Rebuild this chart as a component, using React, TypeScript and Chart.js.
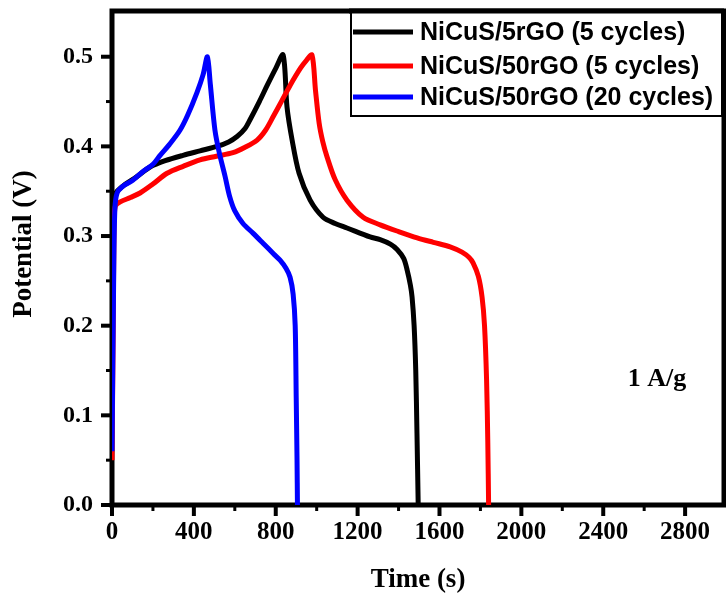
import React, { useEffect, useRef } from "react";
import { Chart, registerables } from "chart.js";

Chart.register(...registerables);

// ---- data ----
const seriesLabels = ["NiCuS/5rGO (5 cycles)", "NiCuS/50rGO (5 cycles)", "NiCuS/50rGO (20 cycles)"];
const seriesColors = ["#000000", "#ff0000", "#0000ff"];

// NiCuS/5rGO (5 cycles) - black
const time5rGO5 = [0, 8, 14, 25, 60, 120, 186, 260, 347, 430, 513, 570, 611, 650, 675, 720, 758, 800, 836, 855, 880, 914, 968, 1031, 1090, 1148, 1261, 1310, 1360, 1393, 1425, 1442, 1458, 1466, 1476, 1484, 1490, 1496];
const potential5rGO5 = [0.24, 0.32, 0.345, 0.35, 0.357, 0.366, 0.377, 0.384, 0.39, 0.395, 0.4, 0.405, 0.411, 0.42, 0.43, 0.45, 0.468, 0.487, 0.502, 0.444, 0.407, 0.37, 0.34, 0.321, 0.314, 0.309, 0.299, 0.296, 0.291, 0.285, 0.275, 0.262, 0.245, 0.232, 0.2, 0.15, 0.08, 0.0];

// NiCuS/50rGO (5 cycles) - red
const time50rGO5 = [0, 6, 10, 16, 40, 90, 137, 200, 269, 350, 430, 510, 591, 650, 709, 750, 787, 830, 870, 920, 950, 977, 994, 1012, 1030, 1051, 1090, 1148, 1227, 1310, 1400, 1491, 1570, 1652, 1710, 1745, 1764, 1790, 1808, 1820, 1830, 1836, 1840];
const potential50rGO5 = [0.05, 0.2, 0.31, 0.333, 0.338, 0.343, 0.348, 0.358, 0.37, 0.378, 0.385, 0.389, 0.393, 0.399, 0.407, 0.418, 0.433, 0.451, 0.468, 0.487, 0.496, 0.502, 0.463, 0.426, 0.405, 0.388, 0.363, 0.34, 0.321, 0.3125, 0.305, 0.298, 0.293, 0.288, 0.282, 0.276, 0.27, 0.255, 0.232, 0.2, 0.14, 0.07, 0.0];

// NiCuS/50rGO (20 cycles) - blue
const time50rGO20 = [0, 8, 14, 25, 50, 100, 152, 200, 235, 280, 332, 370, 415, 445, 466, 480, 503, 525, 552, 575, 600, 640, 690, 738, 790, 821, 850, 870, 885, 895, 900, 904, 906];
const potential50rGO20 = [0.06, 0.25, 0.33, 0.348, 0.355, 0.362, 0.372, 0.38, 0.39, 0.402, 0.418, 0.435, 0.46, 0.48, 0.5, 0.47, 0.418, 0.392, 0.367, 0.344, 0.328, 0.314, 0.303, 0.292, 0.28, 0.273, 0.264, 0.254, 0.235, 0.2, 0.12, 0.05, 0.0];

const xTickValues = [0, 400, 800, 1200, 1600, 2000, 2400, 2800];
const xMinorTickValues = [200, 600, 1000, 1400, 1800, 2200, 2600];
const yTickValues = [0, 0.1, 0.2, 0.3, 0.4, 0.5];
const yMinorTickValues = [0.05, 0.15, 0.25, 0.35, 0.45];

const xMin = 0;
const xMax = 2990;
const yMin = 0;
const yMax = 0.551;

const xTitle = "Time (s)";
const yTitle = "Potential (V)";
const annotationText = "1 A/g";

const SERIF = "'Liberation Serif', 'Times New Roman', serif";
const SANS = "'Liberation Sans', Arial, sans-serif";

function toPoints(xs: number[], ys: number[]) {
  return xs.map((x, i) => ({ x, y: ys[i] }));
}

const framePlugin = {
  id: "frameAndExtras",
  beforeDraw(chart: any) {
    const ctx = chart.ctx;
    ctx.save();
    ctx.fillStyle = "#ffffff";
    ctx.fillRect(0, 0, chart.width, chart.height);
    ctx.restore();
  },
  beforeDatasetsDraw(chart: any) {
    const { ctx, chartArea } = chart;
    const xs = chart.scales.x;
    const ys = chart.scales.y;
    const { left, right, top, bottom } = chartArea;
    ctx.save();
    ctx.strokeStyle = "#000";
    ctx.lineCap = "butt";
    ctx.lineWidth = 4;
    xTickValues.forEach((v) => {
      const px = xs.getPixelForValue(v);
      ctx.beginPath();
      ctx.moveTo(px, bottom);
      ctx.lineTo(px, bottom + 11);
      ctx.stroke();
    });
    yTickValues.forEach((v) => {
      const py = ys.getPixelForValue(v);
      ctx.beginPath();
      ctx.moveTo(left, py);
      ctx.lineTo(left - 11, py);
      ctx.stroke();
    });
    ctx.lineWidth = 3;
    xMinorTickValues.forEach((v) => {
      const px = xs.getPixelForValue(v);
      ctx.beginPath();
      ctx.moveTo(px, bottom);
      ctx.lineTo(px, bottom + 6);
      ctx.stroke();
    });
    yMinorTickValues.forEach((v) => {
      const py = ys.getPixelForValue(v);
      ctx.beginPath();
      ctx.moveTo(left, py);
      ctx.lineTo(left - 6, py);
      ctx.stroke();
    });
    ctx.lineWidth = 5;
    ctx.strokeRect(left, top, right - left, bottom - top);
    ctx.restore();
  },
  afterDatasetsDraw(chart: any) {
    const { ctx } = chart;
    ctx.save();
    const bx = 351, by = 11, bw = 371, bh = 105;
    ctx.fillStyle = "#fff";
    ctx.fillRect(bx, by, bw, bh);
    ctx.strokeStyle = "#000";
    ctx.lineWidth = 2;
    ctx.strokeRect(bx, by, bw, bh);
    ctx.lineWidth = 5;
    ctx.beginPath();
    ctx.moveTo(bx - 2, chart.chartArea.top);
    ctx.lineTo(chart.chartArea.right, chart.chartArea.top);
    ctx.stroke();
    const rows = [32, 66, 97];
    seriesLabels.forEach((label, i) => {
      const y = rows[i];
      ctx.strokeStyle = seriesColors[i];
      ctx.lineWidth = 5;
      ctx.beginPath();
      ctx.moveTo(353, y);
      ctx.lineTo(413, y);
      ctx.stroke();
      ctx.fillStyle = "#000";
      ctx.font = `bold 25px ${SANS}`;
      ctx.textAlign = "left";
      ctx.textBaseline = "middle";
      ctx.fillText(label, 420, y + 1);
    });
    ctx.font = `bold 26px ${SERIF}`;
    ctx.textAlign = "center";
    ctx.textBaseline = "middle";
    ctx.fillStyle = "#000";
    ctx.fillText(annotationText, 657, 379);
    ctx.translate(24, 244);
    ctx.rotate(-Math.PI / 2);
    ctx.font = `bold 27px ${SERIF}`;
    ctx.fillText(yTitle, 0, 0);
    ctx.restore();
  },
};

export default function App() {
  const canvasRef = useRef<HTMLCanvasElement | null>(null);

  useEffect(() => {
    if (!canvasRef.current) return;
    const common = {
      borderWidth: 5,
      pointRadius: 0,
      tension: 0.3,
    };
    const chart = new Chart(canvasRef.current, {
      type: "line",
      data: {
        datasets: [
          {
            ...common,
            label: seriesLabels[0],
            data: toPoints(time5rGO5, potential5rGO5),
            borderColor: seriesColors[0],
            backgroundColor: seriesColors[0],
            order: 3,
          },
          {
            ...common,
            label: seriesLabels[1],
            data: toPoints(time50rGO5, potential50rGO5),
            borderColor: seriesColors[1],
            backgroundColor: seriesColors[1],
            order: 2,
          },
          {
            ...common,
            label: seriesLabels[2],
            data: toPoints(time50rGO20, potential50rGO20),
            borderColor: seriesColors[2],
            backgroundColor: seriesColors[2],
            order: 1,
          },
        ],
      },
      options: {
        responsive: false,
        animation: false,
        devicePixelRatio: 1,
        layout: { padding: { top: 11, right: 2, left: 0, bottom: 0 } },
        plugins: {
          legend: { display: false },
          tooltip: { enabled: false },
        },
        elements: { line: { borderJoinStyle: "round", borderCapStyle: "butt" } },
        scales: {
          x: {
            type: "linear",
            min: xMin,
            max: xMax,
            afterBuildTicks: (s: any) => {
              s.ticks = xTickValues.map((v) => ({ value: v }));
            },
            afterFit: (s: any) => {
              s.height = 93;
              s.paddingLeft = 0;
              s.paddingRight = 0;
            },
            grid: { display: false, drawTicks: false },
            border: { display: false },
            ticks: {
              autoSkip: false,
              maxRotation: 0,
              padding: 13,
              color: "#000",
              font: { family: SERIF, size: 25, weight: "bold" },
              callback: (v: any) => String(v),
            },
            title: {
              display: true,
              text: xTitle,
              color: "#000",
              font: { family: SERIF, size: 27, weight: "bold" },
              padding: { top: 0, bottom: 2 },
            },
          },
          y: {
            type: "linear",
            min: yMin,
            max: yMax,
            afterBuildTicks: (s: any) => {
              s.ticks = yTickValues.map((v) => ({ value: v }));
            },
            afterFit: (s: any) => {
              s.width = 112;
              s.paddingTop = 0;
              s.paddingBottom = 0;
            },
            grid: { display: false, drawTicks: false },
            border: { display: false },
            ticks: {
              autoSkip: false,
              padding: 19,
              color: "#000",
              font: { family: SERIF, size: 24, weight: "bold" },
              callback: (v: any) => Number(v).toFixed(1),
            },
          },
        },
      },
      plugins: [framePlugin],
    } as any);
    return () => chart.destroy();
  }, []);

  return (
    <div style={{ position: "absolute", left: 0, top: 0, width: 726, height: 598, background: "#fff" }}>
      <canvas ref={canvasRef} width={726} height={598} style={{ width: 726, height: 598, display: "block" }} />
    </div>
  );
}
